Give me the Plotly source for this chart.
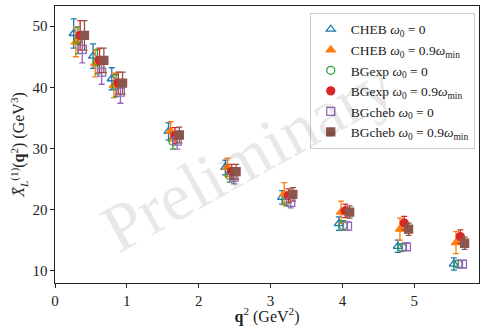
import plotly.graph_objects as go

# base q^2 values (GeV^2)
q2 = [0.26, 0.53, 0.79, 1.58, 2.37, 3.16, 3.95, 4.77, 5.55]
shift = 0.03  # horizontal offset between series for visibility

names = [
    "CHEB <i>ω</i><sub>0</sub> = 0",
    "CHEB <i>ω</i><sub>0</sub> = 0.9<i>ω</i><sub>min</sub>",
    "BGexp <i>ω</i><sub>0</sub> = 0",
    "BGexp <i>ω</i><sub>0</sub> = 0.9<i>ω</i><sub>min</sub>",
    "BGcheb <i>ω</i><sub>0</sub> = 0",
    "BGcheb <i>ω</i><sub>0</sub> = 0.9<i>ω</i><sub>min</sub>",
]

cheb_0 = [48.8, 45.1, 41.4, 32.8, 26.9, 22.0, 17.7, 14.0, 11.1]
cheb_09 = [47.4, 43.9, 40.3, 32.8, 26.9, 22.6, 19.6, 16.8, 14.6]
bgexp_0 = [47.7, 44.2, 40.3, 31.2, 25.6, 21.5, 17.4, 13.8, 11.1]
bgexp_09 = [48.5, 44.4, 40.7, 32.1, 26.2, 22.3, 19.8, 17.8, 15.6]
bgcheb_0 = [46.2, 42.5, 39.2, 31.2, 25.3, 21.2, 17.3, 13.9, 11.1]
bgcheb_09 = [48.5, 44.4, 40.7, 32.2, 26.2, 22.5, 19.6, 16.8, 14.5]

err_cheb_0 = [2.4, 2.0, 1.8, 1.4, 1.2, 1.1, 1.1, 1.0, 1.0]
err_cheb_09 = [2.4, 2.2, 2.0, 1.6, 1.5, 1.8, 1.8, 1.8, 1.8]
err_bgexp_0 = [2.2, 2.0, 1.8, 1.3, 1.1, 0.9, 0.8, 0.6, 0.6]
err_bgexp_09 = [2.4, 2.0, 1.8, 1.3, 1.2, 1.1, 1.1, 1.1, 1.1]
err_bgcheb_0 = [2.2, 2.0, 1.8, 1.3, 1.1, 0.9, 0.7, 0.6, 0.6]
err_bgcheb_09 = [2.4, 2.0, 1.8, 1.3, 1.2, 1.1, 1.0, 1.0, 1.0]

values = [cheb_0, cheb_09, bgexp_0, bgexp_09, bgcheb_0, bgcheb_09]
errors = [err_cheb_0, err_cheb_09, err_bgexp_0, err_bgexp_09, err_bgcheb_0, err_bgcheb_09]
colors = ["#1f77b4", "#ff7f0e", "#2ca02c", "#d62728", "#9467bd", "#8c564b"]
symbols = ["triangle-up-open", "triangle-up", "circle-open", "circle", "square-open", "square"]

FONT = "Liberation Serif"

fig = go.Figure()

fig.add_annotation(
    text="Preliminary", x=0.455, y=0.46, xref="paper", yref="paper",
    showarrow=False, textangle=-29,
    font=dict(family=FONT, size=68, color="rgba(0,0,0,0.09)"),
)

for i in range(6):
    fig.add_trace(go.Scatter(
        x=[q + i * shift for q in q2],
        y=values[i],
        mode="markers",
        name=names[i],
        marker=dict(symbol=symbols[i], color=colors[i], size=8,
                    line=dict(color=colors[i], width=1.3)),
        error_y=dict(type="data", array=errors[i], color=colors[i],
                     thickness=1.3, width=3),
    ))

axis_common = dict(
    showline=True, linecolor="#222", linewidth=1.2, mirror=True,
    ticks="outside", ticklen=3.5, tickwidth=1, tickcolor="#222",
    showgrid=False, zeroline=False,
    tickfont=dict(family=FONT, size=15, color="#222"),
)

fig.update_layout(
    width=480, height=326,
    margin=dict(l=55, r=1, t=6, b=43),
    paper_bgcolor="white", plot_bgcolor="white",
    font=dict(family=FONT, color="#222"),
    xaxis=dict(range=[0, 5.9], tickvals=[0, 1, 2, 3, 4, 5],
               title=dict(text="<b>q</b><sup>2</sup> (GeV<sup>2</sup>)",
                          font=dict(family=FONT, size=16), standoff=2),
               **axis_common),
    yaxis=dict(range=[8.0, 53.3], tickvals=[10, 20, 30, 40, 50],
               title=dict(text="<i>X̄</i><sub><i>L</i></sub><sup>(1)</sup>(<b>q</b><sup>2</sup>) (GeV<sup>3</sup>)",
                          font=dict(family=FONT, size=16), standoff=3),
               **axis_common),
    legend=dict(x=0.99, y=0.975, xanchor="right", yanchor="top",
                bgcolor="rgba(255,255,255,0.8)", bordercolor="#cccccc", borderwidth=1,
                font=dict(family=FONT, size=13.5, color="#222"),
                tracegroupgap=0, itemwidth=30),
    showlegend=True,
)

fig.write_html("out.html")
